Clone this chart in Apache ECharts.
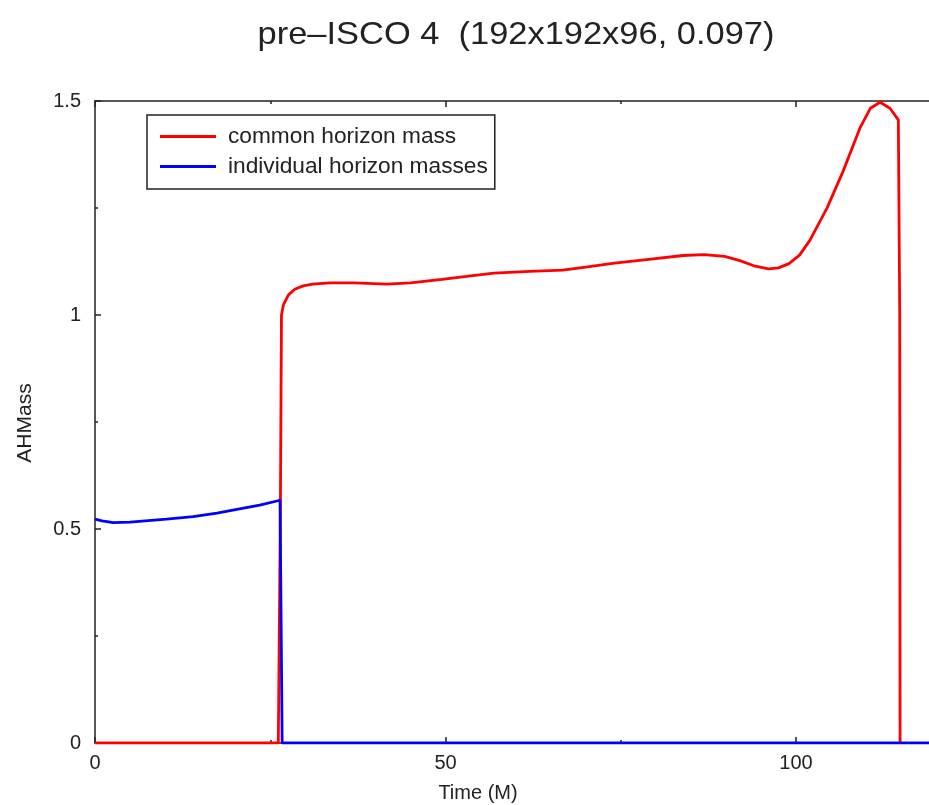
<!DOCTYPE html>
<html>
<head>
<meta charset="utf-8">
<script src="https://cdn.jsdelivr.net/npm/echarts@6/dist/echarts.min.js"></script>
<style>html,body{margin:0;padding:0;background:#fff;overflow:hidden;width:929px;height:805px;}#c{width:1200px;height:805px;}</style>
</head>
<body>
<div id="c"></div>
<script>
const titleText = 'pre\u2013ISCO 4  (192x192x96, 0.097)';
const xName = 'Time (M)';
const yName = 'AHMass';
const seriesNames = ['common horizon mass', 'individual horizon masses'];

const commonT = [0, 26.15, 26.45, 26.6, 26.9, 27.6, 28.5, 29.7, 31, 33.5, 37, 41.6, 45, 49.5, 53, 56.9, 62, 66.7, 70, 74.1, 79, 83.9, 86.9, 89.8, 92, 94, 96.1, 97.5, 99, 100.5, 102, 104.4, 106.7, 109.1, 110.6, 112, 113.4, 114.6, 114.8, 114.85];
const commonM = [0, 0, 0.55, 1.0, 1.025, 1.047, 1.060, 1.068, 1.072, 1.075, 1.075, 1.072, 1.075, 1.083, 1.090, 1.098, 1.102, 1.105, 1.112, 1.121, 1.130, 1.139, 1.141, 1.137, 1.127, 1.115, 1.108, 1.110, 1.120, 1.140, 1.175, 1.249, 1.335, 1.436, 1.483, 1.497, 1.483, 1.456, 1.0, 0];

const indivT = [0, 1, 2.6, 5, 10.2, 14, 17.4, 21, 23.5, 26.1, 26.4, 26.7, 120];
const indivM = [0.523, 0.519, 0.515, 0.516, 0.523, 0.529, 0.537, 0.548, 0.556, 0.566, 0.568, 0, 0];

const xTicks = {min: 0, max: 150, interval: 50};
const yTicks = {min: 0, max: 1.5, interval: 0.5};

const zip = (a, b) => a.map((t, i) => [t, b[i]]);
const FONT = '"Liberation Sans", Arial, Helvetica, sans-serif';
const AX = '#222';

const chart = echarts.init(document.getElementById('c'), null, {renderer: 'canvas'});

const xAxisBase = {
  type: 'value', min: xTicks.min, max: xTicks.max, interval: xTicks.interval,
  axisLine: {show: true, onZero: false, lineStyle: {color: AX, width: 1.5}},
  axisTick: {show: true, inside: true, length: 6, lineStyle: {color: AX, width: 1.5}},
  minorTick: {show: true, splitNumber: 2, length: 3, lineStyle: {color: AX, width: 1.5}},
  splitLine: {show: false}
};

chart.setOption({
  animation: false,
  backgroundColor: '#fff',
  textStyle: {fontFamily: FONT},
  grid: {left: 95, top: 101, width: 1051.5, height: 642, containLabel: false},
  graphic: [
    {type: 'text', x: 516, y: 35, scaleX: 1.076, scaleY: 1, style: {text: titleText, font: '32px ' + FONT, fill: '#222', align: 'center', verticalAlign: 'middle'}, z: 10},
    {type: 'text', x: 478, y: 793, style: {text: xName, font: '20px ' + FONT, fill: '#222', align: 'center', verticalAlign: 'middle'}},
    {type: 'text', x: 25, y: 423, rotation: Math.PI / 2, style: {text: yName, font: '21px ' + FONT, fill: '#222', align: 'center', verticalAlign: 'middle'}}
  ],
  legend: {
    show: true, orient: 'vertical', left: 147, top: 115,
    data: seriesNames,
    icon: 'rect', itemWidth: 56, itemHeight: 3, itemGap: 7,
    padding: [10, 7, 11, 13],
    borderColor: '#222', borderWidth: 1.5, backgroundColor: '#fff',
    textStyle: {fontSize: 22.7, fontFamily: FONT, color: '#222', padding: [0, 0, 0, 7]}
  },
  xAxis: [
    Object.assign({}, xAxisBase, {
      position: 'bottom',
      axisLabel: {show: true, margin: 10, fontSize: 20, fontFamily: FONT, color: '#222', showMaxLabel: false}
    }),
    Object.assign({}, xAxisBase, {position: 'top', axisLabel: {show: false}})
  ],
  yAxis: {
    type: 'value', min: yTicks.min, max: yTicks.max, interval: yTicks.interval,
    axisLine: {show: true, lineStyle: {color: AX, width: 1.5}},
    axisTick: {show: true, inside: true, length: 6, lineStyle: {color: AX, width: 1.5}},
    minorTick: {show: true, splitNumber: 2, length: 3, lineStyle: {color: AX, width: 1.5}},
    splitLine: {show: false},
    axisLabel: {show: true, margin: 14, fontSize: 20, fontFamily: FONT, color: '#222'}
  },
  series: [
    {name: seriesNames[0], type: 'line', xAxisIndex: 0, data: zip(commonT, commonM), showSymbol: false, symbol: 'none',
     lineStyle: {color: '#ff0000', width: 2.8}, itemStyle: {color: '#ff0000'}, clip: true},
    {name: seriesNames[1], type: 'line', xAxisIndex: 0, data: zip(indivT, indivM), showSymbol: false, symbol: 'none',
     lineStyle: {color: '#0000ff', width: 2.8}, itemStyle: {color: '#0000ff'}, clip: true}
  ]
});
</script>
</body>
</html>
